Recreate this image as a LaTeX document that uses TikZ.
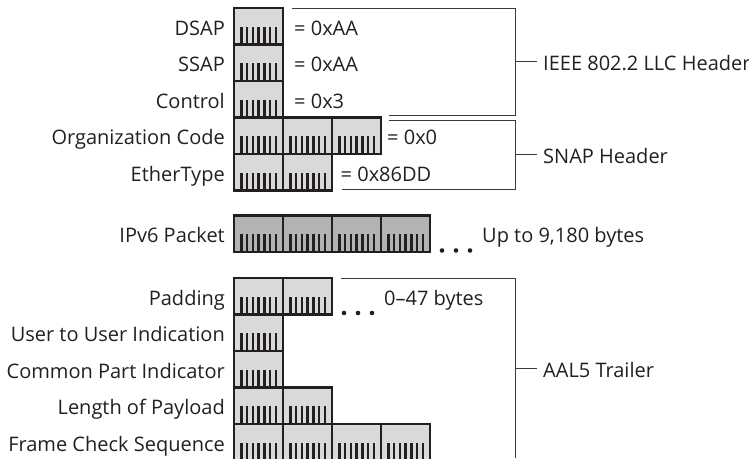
\documentclass[tikz,border=0pt]{standalone}
\usepackage{fontspec}
\setmainfont{Open Sans}
\usetikzlibrary{positioning,calc}
\definecolor{Ink}{HTML}{231F20}
\definecolor{Cell}{HTML}{D9D9D9}
\definecolor{CellDark}{HTML}{B3B3B3}
\definecolor{Rule}{HTML}{3A3A3A}
\tikzset{
  cellbox/.style={draw=Ink,fill=Cell,line width=2.2pt,minimum width=49pt,minimum height=36.5pt,inner sep=0pt,outer sep=0pt,anchor=north west,
    path picture={\foreach \tx in {7.5,13.2,18.9,24.6,30.3,36,41.7}
      \draw[Ink,line width=2.4pt] ([xshift=\tx pt]path picture bounding box.south west) -- ++(0pt,18pt);}},
  lbl/.style={font=\fontsize{20}{24}\selectfont,text=Ink,inner sep=0pt,text height=18.3pt,text depth=0pt},
  bracket/.style={draw=Rule,line width=1pt},
  dot/.style={fill=Ink}
}
\newcommand{\fieldrow}[4]{%
  \foreach \i in {1,...,#3}
    \node[cellbox,fill=#4] (#1-\i) at ({234+49*(\i-1)},#2) {};}

\begin{document}
\begin{tikzpicture}[x=1pt,y=-1pt,node distance=9pt]
  \clip (0,0) rectangle (749,458);
  \fieldrow{dsap}{8}{1}{Cell}
  \fieldrow{ssap}{44.5}{1}{Cell}
  \fieldrow{ctrl}{81}{1}{Cell}
  \fieldrow{org}{117.5}{3}{Cell}
  \fieldrow{eth}{154}{2}{Cell}
  \fieldrow{ipv}{215.5}{4}{CellDark}
  \fieldrow{pad}{278}{2}{Cell}
  \fieldrow{uui}{314.5}{1}{Cell}
  \fieldrow{cpi}{351}{1}{Cell}
  \fieldrow{lop}{387.5}{2}{Cell}
  \fieldrow{fcs}{424}{4}{Cell}

  \node[lbl,left=of dsap-1] (dsapl) {DSAP};
  \node[lbl,left=of ssap-1] (ssapl) {SSAP};
  \node[lbl,left=of ctrl-1] (ctrll) {Control};
  \node[lbl,left=of org-1] (orgl) {Organization Code};
  \node[lbl,left=of eth-1] (ethl) {EtherType};
  \node[lbl,left=of ipv-1] (ipvl) {IPv6 Packet};
  \node[lbl,left=of pad-1] (padl) {Padding};
  \node[lbl,left=of uui-1] (uuil) {User to User Indication};
  \node[lbl,left=of cpi-1] (cpil) {Common Part Indicator};
  \node[lbl,left=of lop-1] (lopl) {Length of Payload};
  \node[lbl,left=of fcs-1] (fcsl) {Frame Check Sequence};

  \node[lbl,right=11pt of dsap-1] (dsapv) {= 0xAA};
  \node[lbl,right=11pt of ssap-1] (ssapv) {= 0xAA};
  \node[lbl,right=11pt of ctrl-1] (ctrlv) {= 0x3};
  \node[lbl,right=6pt of org-3] (orgv) {= 0x0};
  \node[lbl,right=8.5pt of eth-2] (ethv) {= 0x86DD};
  \node[lbl,right=52pt of ipv-4] (ipvv) {Up to 9,180 bytes};
  \node[lbl,right=52pt of pad-2] (padv) {0–47 bytes};

  \foreach \dx in {12,26,40} {
    \fill[dot] ($(ipv-4.south east)+(\dx,-1.5)$) circle (2.3pt);
    \fill[dot] ($(pad-2.south east)+(\dx,-1.5)$) circle (2.3pt);
  }

  \coordinate (llcA) at (292,8);
  \coordinate (llcB) at (515,8);
  \coordinate (llcC) at (515,115);
  \coordinate (llcD) at (389,115);
  \coordinate (llcM) at ($(llcB)!0.5!(llcC)$);
  \draw[bracket] (llcA) -- (llcB) -- (llcC) -- (llcD);
  \node[lbl,right=28pt of llcM] (llc) {IEEE 802.2 LLC Header};
  \draw[bracket,shorten >=6pt] (llcM) -- (llc.west);

  \coordinate (snapA) at (389,120);
  \coordinate (snapB) at (515,120);
  \coordinate (snapC) at (515,189.5);
  \coordinate (snapD) at (342,189.5);
  \coordinate (snapM) at ($(snapB)!0.5!(snapC)$);
  \draw[bracket] (snapA) -- (snapB) -- (snapC) -- (snapD);
  \node[lbl,right=28pt of snapM] (snap) {SNAP Header};
  \draw[bracket,shorten >=6pt] (snapM) -- (snap.west);

  \coordinate (aalA) at (341,278);
  \coordinate (aalB) at (515,278);
  \coordinate (aalC) at (515,458);
  \coordinate (aalM) at ($(aalB)!0.5!(aalC)$);
  \draw[bracket] (aalA) -- (aalB) -- (aalC);
  \node[lbl,right=28pt of aalM] (aal) {AAL5 Trailer};
  \draw[bracket,shorten >=6pt] (aalM) -- (aal.west);
\end{tikzpicture}
\end{document}
